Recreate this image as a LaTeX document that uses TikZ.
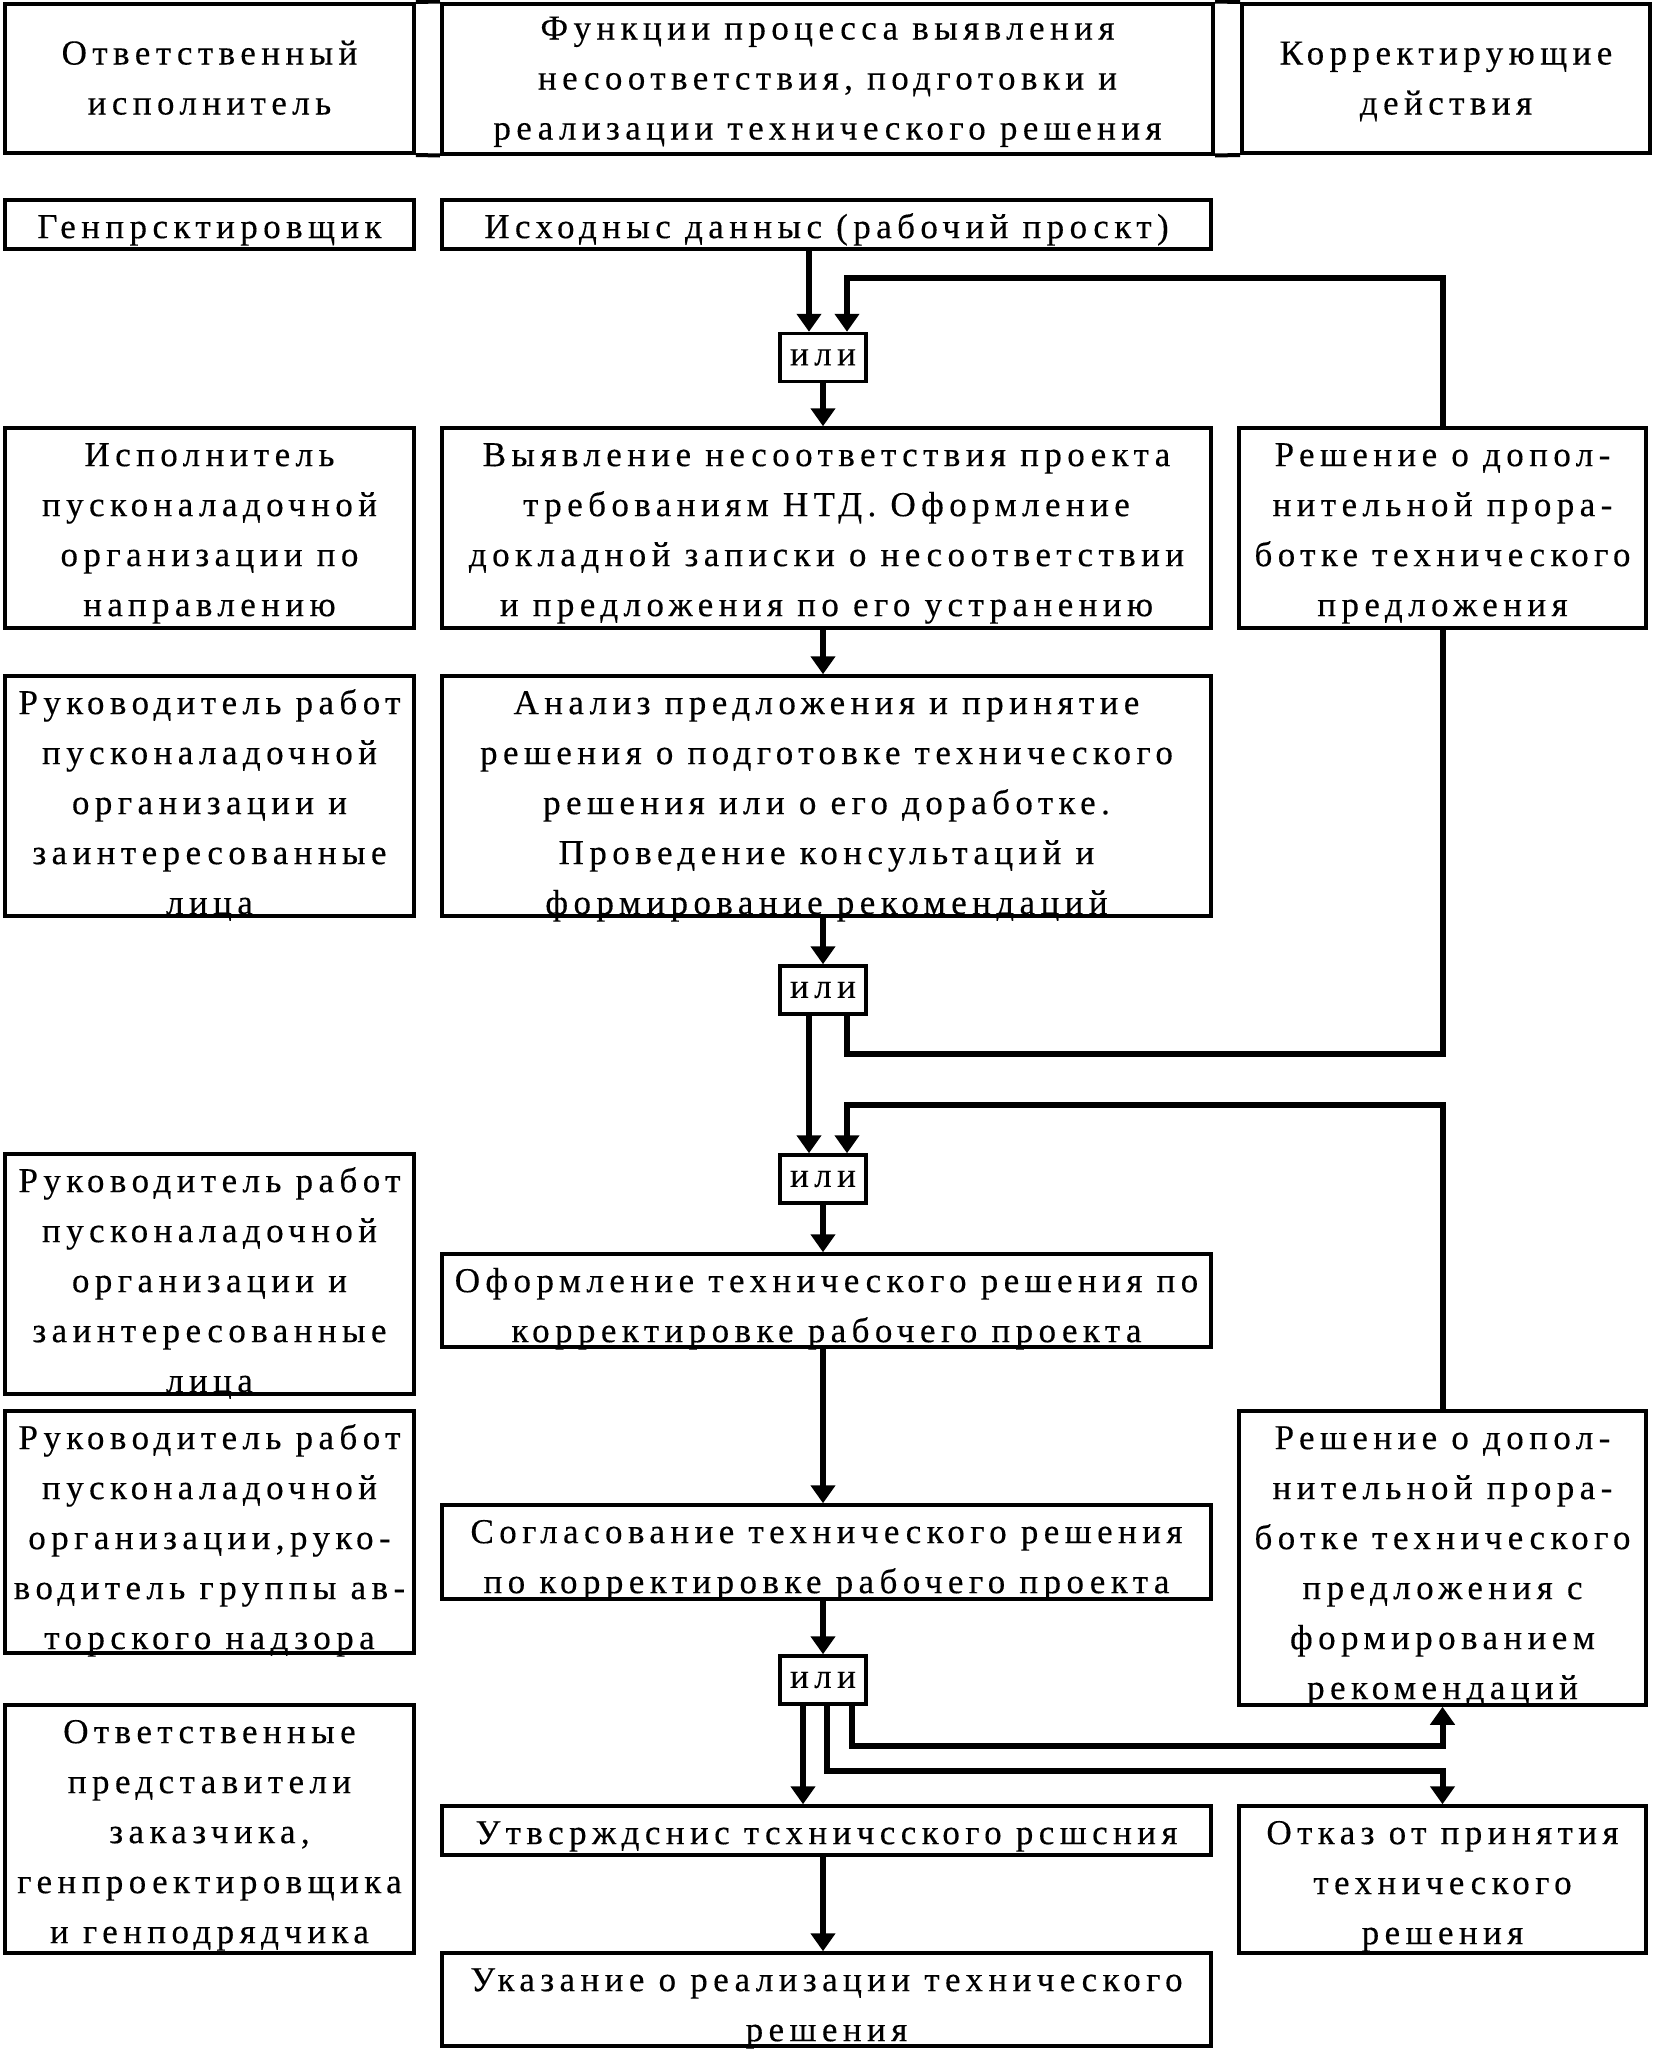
\documentclass[tikz,border=0pt]{standalone}
\usepackage{fontspec}
\setmainfont{Liberation Serif}[LetterSpace=15.5,FakeBold=0.3]
\usetikzlibrary{arrows.meta}
\newcommand\bodyfont{\fontsize{17.5pt}{25pt}\selectfont}
\newcommand\hs{\rule{0pt}{18pt}}
\newcommand\hd{\rule[-7pt]{0pt}{7pt}}
\tikzset{
  boxst/.style={draw, line width=1.75pt, inner sep=0pt},
  txt/.style={anchor=north, align=center, inner sep=0pt, font=\bodyfont},
  hdr/.style={draw, line width=2pt, inner sep=0pt, align=center, font=\bodyfont},
  orst/.style={draw, line width=1.75pt, inner sep=0pt, font=\bodyfont, minimum width=43pt, minimum height=24pt},
  arr/.style={line width=3pt, -{Triangle[length=9pt,width=12pt]}},
  lnk/.style={line width=3pt},
  hline/.style={line width=2pt},
}
\newcommand\tbox[6]{%
  \node[boxst, minimum width={(#4-#2)*0.5pt}, minimum height={(#5-#3)*0.5pt}] (#1) at ({(#2+#4)/2},{(#3+#5)/2}) {};
  \node[txt] (#1t) at (#1.north) {\rule{0pt}{19.75pt}#6};
}
\begin{document}
\begin{tikzpicture}[x=0.5pt, y=-0.5pt]
\useasboundingbox (0,0) rectangle (1654,2051);
% header
\node[hdr, minimum width=204.5pt, minimum height=74.5pt] (h1) at (209.5,78.5) {\hs Ответственный\\исполнитель\hd};
\node[hdr, minimum width=385.5pt, minimum height=74.5pt] (h2) at (827.5,78.5) {\hs Функции процесса выявления\\несоответствия, подготовки и\\реализации технического решения\hd};
\node[hdr, minimum width=204pt, minimum height=74.5pt] (h3) at (1446,78.5) {\hs Корректирующие\\действия\hd};
\draw[hline] (h1.north east) -- (h2.north west) (h1.south east) -- (h2.south west)
             (h2.north east) -- (h3.north west) (h2.south east) -- (h3.south west);
% boxes
\tbox{la}{5}{200}{414}{249}{Генпрсктировщик}
\tbox{ma}{442}{200}{1211}{249}{Исходныс данныс (рабочий проскт)}
\tbox{lb}{5}{428}{414}{628}{Исполнитель\\пусконаладочной\\организации по\\направлению}
\tbox{mb}{442}{428}{1211}{628}{Выявление несоответствия проекта\\требованиям НТД. Оформление\\докладной записки о несоответствии\\и предложения по его устранению}
\tbox{rb}{1239}{428}{1646}{628}{Решение о допол-\\нительной прора-\\ботке технического\\предложения}
\tbox{lc}{5}{676}{414}{916}{Руководитель работ\\пусконаладочной\\организации и\\заинтересованные\\лица}
\tbox{mc}{442}{676}{1211}{916}{Анализ предложения и принятие\\решения о подготовке технического\\решения или о его доработке.\\Проведение консультаций и\\формирование рекомендаций}
\tbox{ld}{5}{1154}{414}{1394}{Руководитель работ\\пусконаладочной\\организации и\\заинтересованные\\лица}
\tbox{md}{442}{1254}{1211}{1347}{Оформление технического решения по\\корректировке рабочего проекта}
\tbox{le}{5}{1411}{414}{1653}{Руководитель работ\\пусконаладочной\\организации,руко-\\водитель группы ав-\\торского надзора}
\tbox{me}{442}{1505}{1211}{1599}{Согласование технического решения\\по корректировке рабочего проекта}
\tbox{re}{1239}{1411}{1646}{1705}{Решение о допол-\\нительной прора-\\ботке технического\\предложения с\\формированием\\рекомендаций}
\tbox{lf}{5}{1705}{414}{1953}{Ответственные\\представители\\заказчика,\\генпроектировщика\\и генподрядчика}
\tbox{mf}{442}{1806}{1211}{1855}{Утвсрждснис тсхничсского рсшсния}
\tbox{rf}{1239}{1806}{1646}{1953}{Отказ от принятия\\технического\\решения}
\tbox{mg}{442}{1953}{1211}{2046}{Указание о реализации технического\\решения}
% or boxes
\node[orst] (or1) at (823,357.5) {или};
\node[orst] (or2) at (823,990) {или};
\node[orst] (or3) at (823,1179) {или};
\node[orst] (or4) at (823,1680) {или};
% connectors
\draw[arr] ([xshift=-7pt]or1.north |- ma.south) -- ([xshift=-7pt]or1.north);
\draw[arr] (rb.north) |- ([xshift=12pt,yshift=27pt]or1.north) -- ([xshift=12pt]or1.north);
\draw[arr] (or1.south) -- (or1.south |- mb.north);
\draw[arr] (or1.south |- mb.south) -- (or1.south |- mc.north);
\draw[arr] (or2.north |- mc.south) -- (or2.north);
\draw[arr] ([xshift=-7pt]or2.south) -- ([xshift=-7pt]or2.south |- or3.north);
\draw[lnk] ([xshift=12pt]or2.south) -- ++(0,-19pt) -| (rb.south);
\draw[arr] (re.north) |- ([xshift=12pt,yshift=24pt]or3.north) -- ([xshift=12pt]or3.north);
\draw[arr] (or3.south) -- (or3.south |- md.north);
\draw[arr] (or3.south |- md.south) -- (or3.south |- me.north);
\draw[arr] (or4.north |- me.south) -- (or4.north);
\draw[arr] ([xshift=-10pt]or4.south) -- ([xshift=-10pt]or4.south |- mf.north);
\draw[arr] ([xshift=2pt]or4.south) -- ++(0,-32.5pt) -| (rf.north);
\draw[arr] ([xshift=14.5pt]or4.south) -- ++(0,-20pt) -| (re.south);
\draw[arr] (or4.south |- mf.south) -- (or4.south |- mg.north);
\end{tikzpicture}
\end{document}
